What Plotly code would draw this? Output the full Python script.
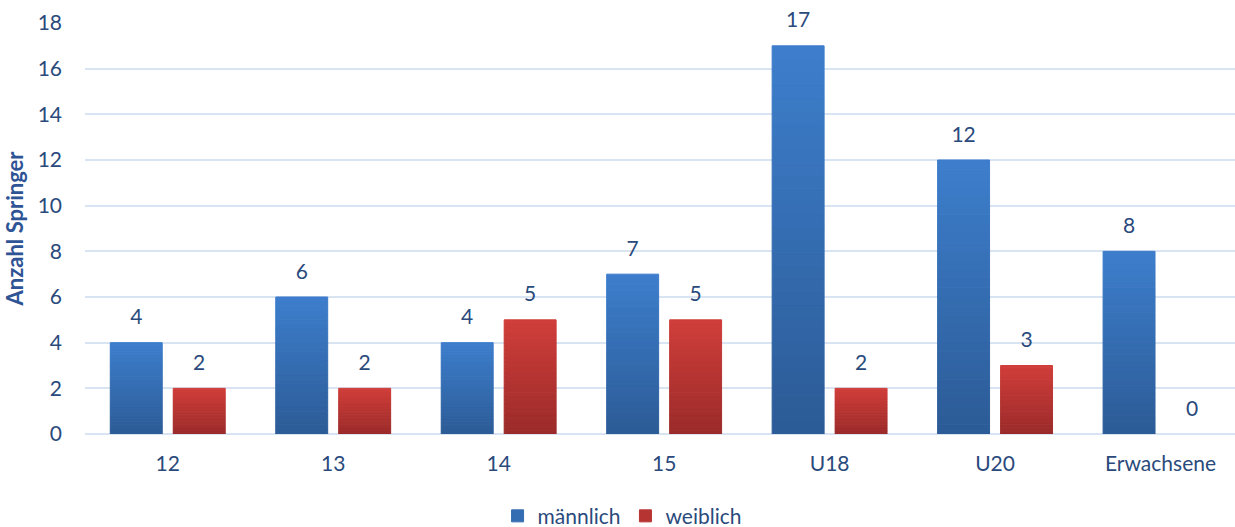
import plotly.graph_objects as go

categories = ["12", "13", "14", "15", "U18", "U20", "Erwachsene"]
maennlich = [4, 6, 4, 7, 17, 12, 8]
weiblich = [2, 2, 5, 5, 2, 3, 0]
y_ticks = [0, 2, 4, 6, 8, 10, 12, 14, 16, 18]

FONT = "Lato"
TXT = "#2A4A7C"
N = 30
PAD = 0.5

series = [
    ("männlich", maennlich, (0x2C, 0x5B, 0x96), (0x3D, 0x7E, 0xCC)),
    ("weiblich", weiblich, (0x9A, 0x2B, 0x2A), (0xD0, 0x3E, 0x3A)),
]


def mix(a, b, t):
    return "rgb(%d,%d,%d)" % tuple(round(a[i] + (b[i] - a[i]) * t) for i in range(3))


fig = go.Figure()
for name, vals, bot, top in series:
    lw = [1.0 if v > 0 else 0 for v in vals]
    for k in range(N):
        col = mix(bot, top, (k + 0.5) / N)
        fig.add_trace(go.Bar(
            x=categories,
            y=[v / N for v in vals],
            base=[v * k / N for v in vals],
            offsetgroup=name,
            legendgroup=name,
            name=name,
            showlegend=(k == N // 2),
            marker=dict(color=col, line=dict(color=col, width=lw)),
            hoverinfo="skip",
        ))
    # transparent pad segment carrying the value label
    fig.add_trace(go.Bar(
        x=categories,
        y=[PAD] * len(vals),
        base=vals,
        offsetgroup=name,
        legendgroup=name,
        showlegend=False,
        marker=dict(color="rgba(0,0,0,0)", line=dict(width=0)),
        text=[str(v) for v in vals],
        textposition="outside",
        textfont=dict(family=FONT, size=21, color=TXT),
        cliponaxis=False,
        hoverinfo="skip",
    ))

fig.update_layout(
    width=1235, height=527,
    margin=dict(l=85, r=0, t=23, b=93, autoexpand=False),
    paper_bgcolor="white", plot_bgcolor="white",
    barmode="group", bargap=0.239, bargroupgap=0.175,
    font=dict(family=FONT, size=21, color=TXT),
    legend=dict(orientation="h", x=0.467, xanchor="center", y=-0.2, yanchor="middle",
                font=dict(family=FONT, size=21, color=TXT), traceorder="normal",
                itemwidth=30),
)
fig.update_xaxes(
    range=[-0.5, 6.45], showgrid=False, showline=False, zeroline=False, automargin=False,
    tickfont=dict(family=FONT, size=21, color=TXT), ticks="", ticklabelstandoff=15,
)
fig.update_yaxes(
    range=[0, 18], tickvals=y_ticks, showgrid=True, gridcolor="#D9E4F3", gridwidth=2,
    zeroline=True, zerolinecolor="#D9E4F3", zerolinewidth=2, showline=False, automargin=False,
    tickfont=dict(family=FONT, size=21, color=TXT), ticks="", ticklabelstandoff=22,
    title=dict(text="<b>Anzahl Springer</b>", font=dict(family=FONT, size=22, color="#2F5495"),
               standoff=7),
)

fig.write_html("out.html", config={"displayModeBar": False},
               post_script="document.body.style.margin='0';document.body.style.overflow='hidden';")
